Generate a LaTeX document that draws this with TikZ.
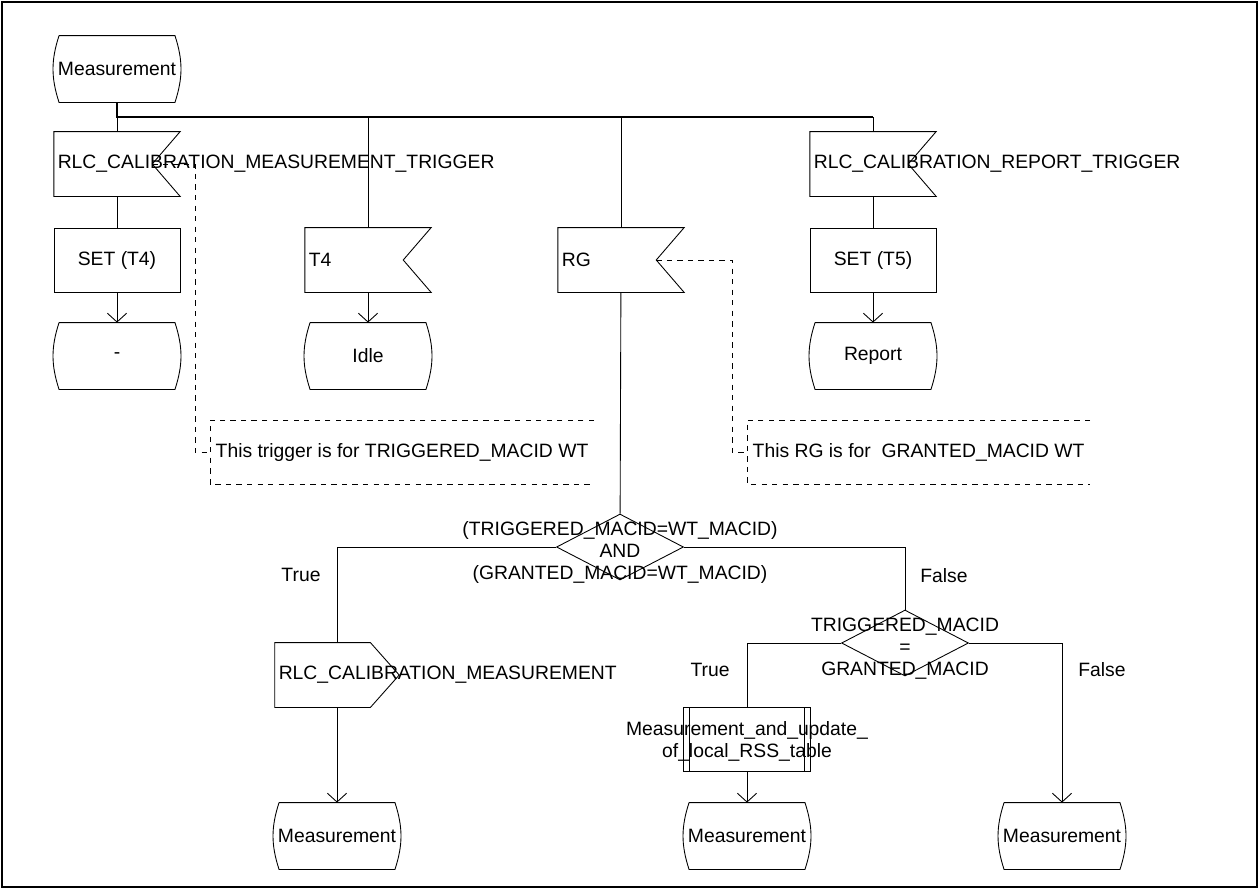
\documentclass[tikz,border=0pt]{standalone}
\usepackage{fontspec}
\setmainfont{Liberation Sans}
\usetikzlibrary{arrows.meta, shapes.geometric}

\begin{document}
\begin{tikzpicture}[x=0.02cm, y=-0.02cm, line width=0.5pt,
  font=\fontsize{11}{12.5}\selectfont,
  >={Straight Barb[length=5pt, width=11pt]},
  sdlstate/.style={minimum width=2.54cm, minimum height=1.32cm, inner sep=0pt,
    append after command={\pgfextra{\draw
      ([xshift=3.4pt]\tikzlastnode.north west) -- ([xshift=-3.4pt]\tikzlastnode.north east)
      to[bend left=18] ([xshift=-3.4pt]\tikzlastnode.south east)
      -- ([xshift=3.4pt]\tikzlastnode.south west)
      to[bend left=18] ([xshift=3.4pt]\tikzlastnode.north west);}}},
  sdlinput/.style={minimum height=1.28cm, text width=67.4pt, inner xsep=2pt,
    inner ysep=0pt, align=left,
    append after command={\pgfextra{\draw (\tikzlastnode.north west)
      -- (\tikzlastnode.north east) -- ([xshift=-15.9pt]\tikzlastnode.east)
      -- (\tikzlastnode.south east) -- (\tikzlastnode.south west) -- cycle;}}},
  sdloutput/.style={minimum height=1.28cm, text width=66.3pt, inner xsep=2pt,
    inner ysep=0pt, align=left,
    append after command={\pgfextra{\draw (\tikzlastnode.north west)
      -- ([xshift=-16.4pt]\tikzlastnode.north east) -- (\tikzlastnode.east)
      -- ([xshift=-16.4pt]\tikzlastnode.south east) -- (\tikzlastnode.south west) -- cycle;}}},
  sdltask/.style={draw, minimum width=2.52cm, minimum height=1.28cm},
  sdlproc/.style={draw, minimum width=2.54cm, minimum height=1.28cm, inner sep=0pt,
    path picture={\draw
      ([xshift=3.6pt]path picture bounding box.north west) -- ([xshift=3.6pt]path picture bounding box.south west)
      ([xshift=-3.6pt]path picture bounding box.north east) -- ([xshift=-3.6pt]path picture bounding box.south east);}},
  sdldecision/.style={diamond, draw, minimum width=2.54cm, minimum height=1.32cm, inner sep=0pt},
  sdlcomment/.style={minimum height=1.26cm, inner xsep=3pt,
    append after command={\pgfextra{\draw[dashed] (\tikzlastnode.north east)
      -- (\tikzlastnode.north west) -- (\tikzlastnode.south west) -- (\tikzlastnode.south east);}}}]

  \useasboundingbox (0,0) rectangle (1260,890);
  \draw[line width=1.1pt] (2,2) rectangle (1257,887);

  % upper part: start state and the four inputs
  \node[sdlstate] (start) at (117,69) {Measurement};
  \node[sdlinput] (in1) at (117,164) {RLC\_CALIBRATION\_MEASUREMENT\_TRIGGER};
  \node[sdlinput] (in2) at (368,260) {T4};
  \node[sdlinput] (in3) at (621,260) {RG};
  \node[sdlinput] (in4) at (873,164) {RLC\_CALIBRATION\_REPORT\_TRIGGER};
  \node[sdltask] (set1) at (117,260) {SET (T4)};
  \node[sdltask] (set2) at (873,260) {SET (T5)};
  \node[sdlstate] (dash) at (117,356) {-};
  \node[sdlstate] (idle) at (368,356) {Idle};
  \node[sdlstate] (report) at (873,356) {Report};

  % comments
  \node[sdlcomment, anchor=west] (com1) at (210,452) {This trigger is for TRIGGERED\_MACID WT};
  \node[sdlcomment, anchor=west] (com2) at (747,452) {This RG is for\ \ GRANTED\_MACID WT};

  % lower part: decisions
  \node[sdldecision, label={[align=center, yshift=-3pt]center:{(TRIGGERED\_MACID=WT\_MACID)\\AND\\(GRANTED\_MACID=WT\_MACID)}}] (dec1) at (620,547) {};
  \node[sdldecision, label={[align=center, yshift=-3pt]center:{TRIGGERED\_MACID\\=\\GRANTED\_MACID}}] (dec2) at (905,643) {};
  \node (t1) at (301,575) {True};
  \node (f1) at (944,576) {False};
  \node (t2) at (710,670) {True};
  \node (f2) at (1102,670) {False};
  \node[sdloutput] (out1) at (337,675) {RLC\_CALIBRATION\_MEASUREMENT};
  \node[sdlproc, label={[align=center, yshift=-1.5pt]center:{Measurement\_and\_update\_\\of\_local\_RSS\_table}}] (proc) at (747,739) {};
  \node[sdlstate] (st3) at (337,836) {Measurement};
  \node[sdlstate] (st4) at (747,836) {Measurement};
  \node[sdlstate] (st5) at (1062,836) {Measurement};

  % connectors
  \coordinate (busL) at (117,117);
  \coordinate (busR) at (873,117);
  \draw[line width=1.1pt] (start) -- (busL) -- (busR);
  \draw (busL) -- (in1);
  \draw (in2 |- busL) -- (in2);
  \draw (in3 |- busL) -- (in3);
  \draw (busR) -- (in4);
  \draw (in1) -- (set1);
  \draw[->] (set1) -- (dash);
  \draw[->] (in2) -- (idle);
  \draw (in4) -- (set2);
  \draw[->] (set2) -- (report);
  \coordinate (k1) at (195,452);
  \coordinate (k2) at (732,452);
  \draw[dashed] ([xshift=-15.9pt]in1.east) -| (k1) -- (com1.west);
  \draw[dashed] ([xshift=-15.9pt]in3.east) -| (k2) -- (com2.west);
  \draw (in3) -- (dec1);
  \draw (dec1.west) -| (out1);
  \draw (dec1.east) -| (dec2);
  \draw[->] (out1) -- (st3);
  \draw (dec2.west) -| (proc);
  \draw[->] (dec2.east) -| (st5);
  \draw[->] (proc) -- (st4);
\end{tikzpicture}
\end{document}
